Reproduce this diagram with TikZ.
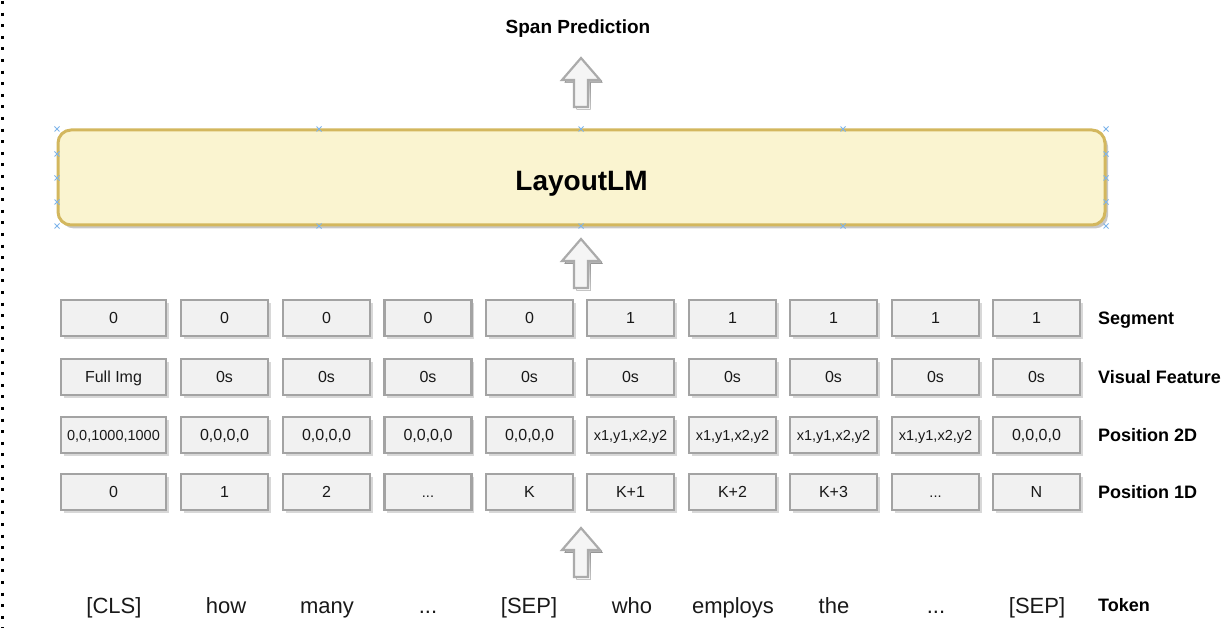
\documentclass[tikz,border=0pt]{standalone}
\usepackage{fontspec}
\setmainfont{Liberation Sans}
\usetikzlibrary{shadows}
\definecolor{boxfill}{HTML}{F1F1F1}
\definecolor{boxline}{HTML}{A3A3A3}
\definecolor{lmfill}{HTML}{FAF4D0}
\definecolor{lmline}{HTML}{D3B75E}
\definecolor{handle}{HTML}{7EB4EA}
\definecolor{arrfill}{HTML}{F5F5F5}
\definecolor{arrline}{HTML}{ABABAB}
\definecolor{shade}{HTML}{C8C8C8}
\begin{document}
\begin{tikzpicture}[x=1pt,y=-1pt,
  every node/.append style={text depth=0pt},
  cell/.style={draw=boxline, line width=2.8pt, fill=boxfill, minimum width=87pt,
    minimum height=36pt, inner sep=0pt, text=black!90,
    font=\fontsize{16}{18}\selectfont, text height=11.5pt,
    drop shadow={shadow xshift=2.5pt, shadow yshift=-2.5pt, fill=shade, opacity=0.7}},
  wide/.style={minimum width=105pt},
  small/.style={font=\fontsize{14.5}{16}\selectfont, text height=10.4pt},
  rowlabel/.style={anchor=west, inner sep=0pt, font=\bfseries\fontsize{18}{20}\selectfont, text height=12.9pt},
  tok/.style={inner sep=0pt, font=\fontsize{22}{24}\selectfont, text=black!90, text height=15.8pt},
  lm/.style={draw=lmline, line width=3pt, fill=lmfill, rounded corners=13pt,
    minimum width=1047pt, minimum height=95pt, inner sep=0pt,
    font=\bfseries\fontsize{28}{30}\selectfont, text height=26pt,
    drop shadow={shadow xshift=3pt, shadow yshift=-3.5pt, fill=shade, opacity=1}},
  title/.style={inner sep=0pt, font=\bfseries\fontsize{19}{21}\selectfont, text height=13.6pt},
  blockarrow/.pic={
    \fill[shade] (-4.5,2.5) -- (-4.5,-24.5) -- (-16.5,-24.5) -- (2.5,-46.5) -- (21.5,-24.5) -- (9.5,-24.5) -- (9.5,2.5) -- cycle;
    \draw[draw=arrline, fill=arrfill, line width=2.2pt, line join=miter]
      (-7,0) -- (-7,-27) -- (-19,-27) -- (0,-49) -- (19,-27) -- (7,-27) -- (7,0) -- cycle;
  },
  hmark/.pic={
    \draw[handle, line width=1pt] (-2.5,-2.5) -- (2.5,2.5) (-2.5,2.5) -- (2.5,-2.5);
  }
]
\useasboundingbox (0,0) rectangle (1230,628);

% dotted left border
\draw[line width=3pt, dash pattern=on 3pt off 8.6pt] (2,1) -- (2,628);

% title
\node[title] (span) at (578,27) {Span Prediction};

% LayoutLM
\node[lm] (lmbox) at (581.5,177.5) {LayoutLM};
\foreach \hx in {57,319,581,843,1106} {
  \pic at (\hx,129) {hmark};
  \pic at (\hx,226) {hmark};
}
\foreach \hy in {154,178,202} {
  \pic at (57,\hy) {hmark};
  \pic at (1106,\hy) {hmark};
}

% block arrows
\pic at (581,107) {blockarrow};
\pic at (581,288) {blockarrow};
\pic at (581,577) {blockarrow};
\coordinate (a1) at (581,107);
\coordinate (a2) at (581,288);
\coordinate (a3) at (581,577);

% rows
\def\ya{318}\def\yb{377}\def\yc{435}\def\yd{492}
% Segment
\node[cell,wide] (s1) at (113.5,\ya) {0};
\node[cell] (s2) at (224.5,\ya) {0};
\node[cell] (s3) at (326.5,\ya) {0};
\node[cell] (s4) at (428,\ya) {0};
\node[cell] (s5) at (529.5,\ya) {0};
\node[cell] (s6) at (630.5,\ya) {1};
\node[cell] (s7) at (732.5,\ya) {1};
\node[cell] (s8) at (833.5,\ya) {1};
\node[cell] (s9) at (935.5,\ya) {1};
\node[cell] (s10) at (1036.5,\ya) {1};
% Visual feature
\node[cell,wide] (v1) at (113.5,\yb) {Full Img};
\node[cell] (v2) at (224.5,\yb) {0s};
\node[cell] (v3) at (326.5,\yb) {0s};
\node[cell] (v4) at (428,\yb) {0s};
\node[cell] (v5) at (529.5,\yb) {0s};
\node[cell] (v6) at (630.5,\yb) {0s};
\node[cell] (v7) at (732.5,\yb) {0s};
\node[cell] (v8) at (833.5,\yb) {0s};
\node[cell] (v9) at (935.5,\yb) {0s};
\node[cell] (v10) at (1036.5,\yb) {0s};
% Position 2D
\node[cell,wide,small] (p1) at (113.5,\yc) {0,0,1000,1000};
\node[cell] (p2) at (224.5,\yc) {0,0,0,0};
\node[cell] (p3) at (326.5,\yc) {0,0,0,0};
\node[cell] (p4) at (428,\yc) {0,0,0,0};
\node[cell] (p5) at (529.5,\yc) {0,0,0,0};
\node[cell,small] (p6) at (630.5,\yc) {x1,y1,x2,y2};
\node[cell,small] (p7) at (732.5,\yc) {x1,y1,x2,y2};
\node[cell,small] (p8) at (833.5,\yc) {x1,y1,x2,y2};
\node[cell,small] (p9) at (935.5,\yc) {x1,y1,x2,y2};
\node[cell] (p10) at (1036.5,\yc) {0,0,0,0};
% Position 1D
\node[cell,wide] (q1) at (113.5,\yd) {0};
\node[cell] (q2) at (224.5,\yd) {1};
\node[cell] (q3) at (326.5,\yd) {2};
\node[cell,small] (q4) at (428,\yd) {...};
\node[cell] (q5) at (529.5,\yd) {K};
\node[cell] (q6) at (630.5,\yd) {K+1};
\node[cell] (q7) at (732.5,\yd) {K+2};
\node[cell] (q8) at (833.5,\yd) {K+3};
\node[cell,small] (q9) at (935.5,\yd) {...};
\node[cell] (q10) at (1036.5,\yd) {N};

% row labels
\node[rowlabel] (lseg) at (1098,\ya) {Segment};
\node[rowlabel] (lvis) at (1098,\yb) {Visual Feature};
\node[rowlabel] (lp2) at (1098,\yc) {Position 2D};
\node[rowlabel] (lp1) at (1098,\yd) {Position 1D};
\node[rowlabel] (ltok) at (1098,605) {Token};

% tokens
\node[tok] (t1) at (114,606) {[CLS]};
\node[tok] (t2) at (226,606) {how};
\node[tok] (t3) at (327,606) {many};
\node[tok] (t4) at (428,606) {...};
\node[tok] (t5) at (529,606) {[SEP]};
\node[tok] (t6) at (632,606) {who};
\node[tok] (t7) at (733,606) {employs};
\node[tok] (t8) at (834,606) {the};
\node[tok] (t9) at (936,606) {...};
\node[tok] (t10) at (1037,606) {[SEP]};
\end{tikzpicture}
\end{document}
